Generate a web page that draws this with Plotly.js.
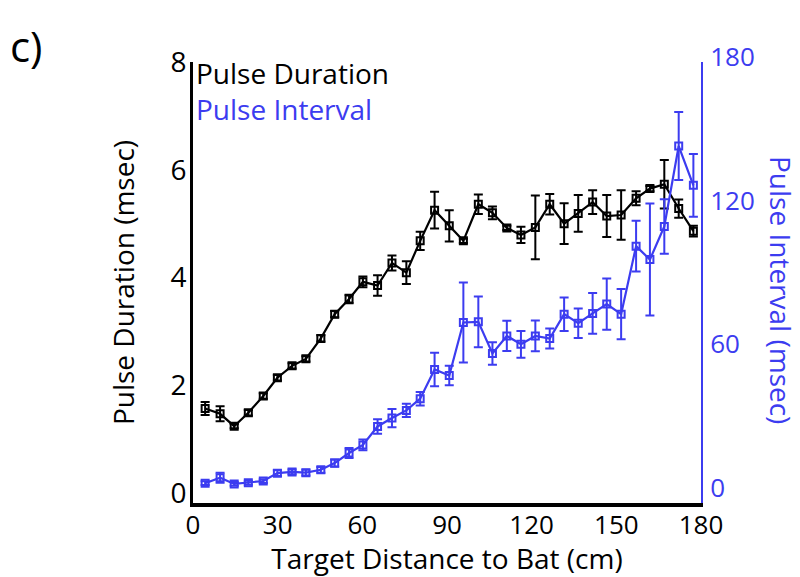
<!DOCTYPE html>
<html>
<head>
<meta charset="utf-8">
<script src="https://cdn.plot.ly/plotly-3.0.1.min.js"></script>
<style>html,body{margin:0;padding:0;background:#fff;}#chart{width:800px;height:577px;}</style>
</head>
<body>
<div id="chart"></div>
<script>
// Target distance (cm) for each bin
const distance = [4.3, 9.6, 14.6, 19.6, 24.9, 29.9, 35.1, 40.0, 45.3, 50.2, 55.3, 60.2, 65.4, 70.5, 75.6, 80.5, 85.6, 90.8, 95.8, 101.1, 106.1, 111.2, 116.2, 121.3, 126.4, 131.5, 136.5, 141.6, 146.6, 151.7, 157.0, 161.9, 167.0, 172.1, 177.3];
// Pulse duration (msec), mean and error
const durationMean = [1.57, 1.47, 1.24, 1.49, 1.80, 2.14, 2.36, 2.49, 2.87, 3.32, 3.60, 3.92, 3.85, 4.27, 4.09, 4.68, 5.25, 4.96, 4.68, 5.36, 5.20, 4.92, 4.79, 4.93, 5.36, 5.00, 5.19, 5.40, 5.14, 5.16, 5.47, 5.65, 5.73, 5.28, 4.86];
const durationErr = [0.12, 0.14, 0.04, 0.05, 0.05, 0.05, 0.05, 0.05, 0.06, 0.06, 0.08, 0.10, 0.19, 0.14, 0.21, 0.17, 0.34, 0.29, 0.04, 0.18, 0.12, 0.04, 0.15, 0.59, 0.19, 0.38, 0.34, 0.22, 0.39, 0.46, 0.13, 0.05, 0.45, 0.17, 0.10];
// Pulse interval (msec), mean and error
const intervalMean = [4.1, 6.4, 3.8, 4.3, 5.0, 8.3, 8.8, 8.5, 9.7, 12.5, 16.7, 20.1, 27.8, 31.3, 34.5, 39.4, 51.6, 49.1, 71.2, 71.5, 58.3, 65.6, 62.1, 65.6, 64.5, 74.7, 70.9, 75.0, 78.9, 74.7, 103.1, 97.5, 111.3, 144.9, 128.5];
const intervalErr = [0.8, 2.1, 0.8, 0.8, 0.8, 1.2, 1.0, 1.2, 1.2, 1.5, 2.1, 2.2, 3.0, 3.8, 2.8, 2.8, 7.0, 4.1, 16.7, 10.6, 4.7, 6.3, 5.6, 6.4, 4.2, 7.0, 6.2, 8.5, 10.7, 10.5, 10.6, 23.4, 11.4, 14.2, 13.1];
// Tick labels
const xTicks = [0, 30, 60, 90, 120, 150, 180];
const yTicks = [0, 2, 4, 6, 8];
const y2Ticks = [0, 60, 120, 180];
const seriesNames = ["Pulse Duration", "Pulse Interval"];

const BLACK = '#000000';
const BLUE = '#3c3cf0';
const FONT = 'Open Sans, Noto Sans, sans-serif';
const FS = 28;

const traces = [
  {
    x: distance, y: durationMean, name: seriesNames[0], type: 'scatter', mode: 'lines+markers',
    line: {color: BLACK, width: 2.2},
    marker: {symbol: 'square-open', size: 7, color: BLACK, line: {width: 2, color: BLACK}},
    error_y: {type: 'data', array: durationErr, visible: true, color: BLACK, thickness: 2, width: 4.5},
    yaxis: 'y', showlegend: false
  },
  {
    x: distance, y: intervalMean, name: seriesNames[1], type: 'scatter', mode: 'lines+markers',
    line: {color: BLUE, width: 2.2},
    marker: {symbol: 'square-open', size: 7, color: BLUE, line: {width: 2, color: BLUE}},
    error_y: {type: 'data', array: intervalErr, visible: true, color: BLUE, thickness: 2, width: 4.5},
    yaxis: 'y2', showlegend: false
  }
];

const legendText = '<span style="color:' + BLACK + '">' + seriesNames[0] + '</span><br>' +
                   '<span style="color:' + BLUE + '">' + seriesNames[1] + '</span>';

const layout = {
  width: 800, height: 577,
  margin: {l: 193, r: 99, t: 62, b: 74},
  paper_bgcolor: '#fff', plot_bgcolor: '#fff',
  font: {family: FONT, size: FS, color: BLACK},
  showlegend: false,
  xaxis: {
    range: [0, 180], tickmode: 'array', tickvals: xTicks, ticktext: xTicks.map(String),
    showline: true, linecolor: BLACK, linewidth: 4, ticks: '', showgrid: false, zeroline: false,
    tickfont: {size: 26, color: BLACK}, ticklabelstandoff: -4,
    title: {text: 'Target Distance to Bat (cm)', font: {size: FS, color: BLACK}, standoff: 0}
  },
  yaxis: {
    range: [-0.1855, 8.0], tickmode: 'array', tickvals: yTicks, ticktext: yTicks.map(String),
    showline: true, linecolor: BLACK, linewidth: 3, ticks: '', showgrid: false, zeroline: false,
    tickfont: {size: FS, color: BLACK}, ticklabelstandoff: -2,
    title: {text: 'Pulse Duration (msec)', font: {size: FS, color: BLACK}, standoff: 28}
  },
  yaxis2: {
    range: [-4.17, 180], tickmode: 'array', tickvals: y2Ticks, ticktext: y2Ticks.map(String),
    overlaying: 'y', side: 'right', anchor: 'x',
    showline: true, linecolor: BLUE, linewidth: 2, ticks: '', showgrid: false, zeroline: false,
    tickfont: {size: 26, color: BLUE}, ticklabelstandoff: 2, ticklabelshift: -5
  },
  annotations: [
    {text: 'c)', xref: 'paper', yref: 'paper', x: (8 - 193) / 508, y: 1 + (62 - 45) / 441, xanchor: 'left', yanchor: 'middle', showarrow: false, font: {size: 42, color: BLACK}},
    {text: legendText, xref: 'paper', yref: 'paper', x: (195 - 193) / 508, y: 1 - (91 - 62) / 441, xanchor: 'left', yanchor: 'middle', align: 'left', borderpad: 0, showarrow: false, font: {size: FS, color: BLACK}},
    {text: 'Pulse Interval (msec)', xref: 'paper', yref: 'paper', x: (781 - 193) / 508, y: 1 - (290 - 62) / 441, xanchor: 'center', yanchor: 'middle', textangle: 90, showarrow: false, font: {size: FS, color: BLUE}}
  ]
};

Plotly.newPlot('chart', traces, layout, {displayModeBar: false, staticPlot: true});
</script>
</body>
</html>
